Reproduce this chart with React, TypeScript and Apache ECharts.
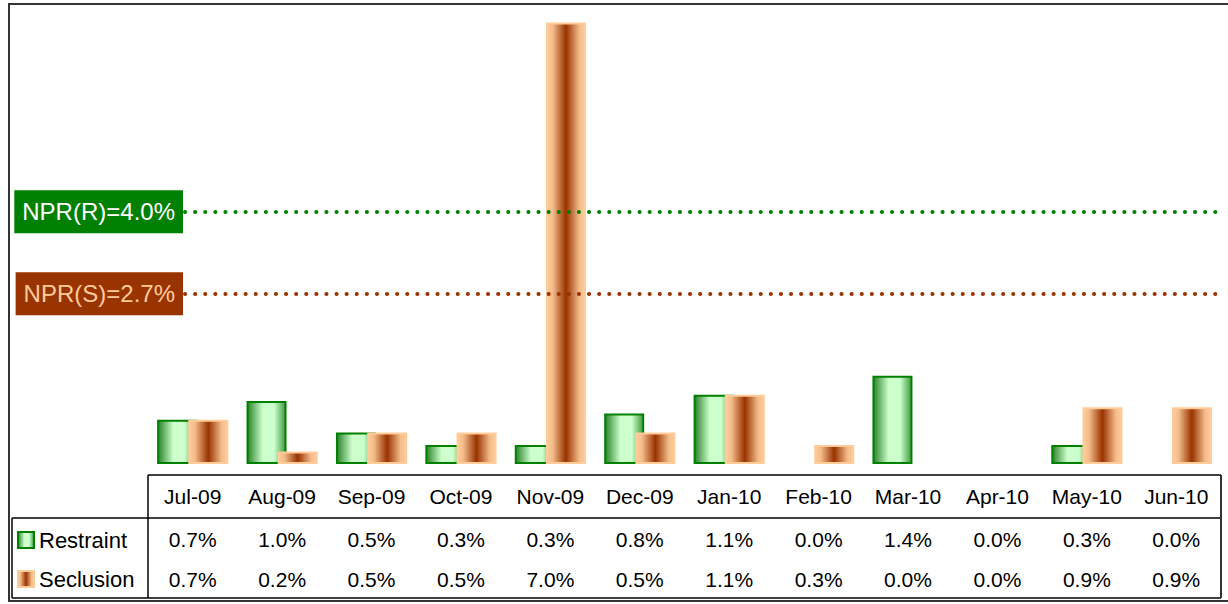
import React, { useEffect, useRef } from "react";
import * as echarts from "echarts";

const categories = ["Jul-09", "Aug-09", "Sep-09", "Oct-09", "Nov-09", "Dec-09", "Jan-10", "Feb-10", "Mar-10", "Apr-10", "May-10", "Jun-10"];
const restraint = [0.7, 1.0, 0.5, 0.3, 0.3, 0.8, 1.1, 0.0, 1.4, 0.0, 0.3, 0.0];
const seclusion = [0.7, 0.2, 0.5, 0.5, 7.0, 0.5, 1.1, 0.3, 0.0, 0.0, 0.9, 0.9];
const seriesNames = ["Restraint", "Seclusion"];
const nprR = 4.0;
const nprS = 2.7;

const FONT = "'Liberation Sans', Arial, sans-serif";
const fmt = (v: number) => v.toFixed(1) + "%";

export default function App() {
  const ref = useRef<HTMLDivElement>(null);
  useEffect(() => {
    document.body.style.margin = "0";
    const chart = echarts.init(ref.current!, null, { renderer: "svg" });
    const greenGrad = new echarts.graphic.LinearGradient(0, 0, 1, 0, [
      { offset: 0, color: "#2a822a" },
      { offset: 0.4, color: "#ccffcc" },
      { offset: 0.7, color: "#ccffcc" },
      { offset: 1, color: "#3f993f" },
    ]);
    const brownGrad = new echarts.graphic.LinearGradient(0, 0, 1, 0, [
      { offset: 0, color: "#ffcc99" },
      { offset: 0.15, color: "#f3bc8a" },
      { offset: 0.5, color: "#993300" },
      { offset: 0.85, color: "#f3bc8a" },
      { offset: 1, color: "#ffcc99" },
    ]);
    const valueAxis = (vals: number[], margin: number) => ({
      type: "category",
      data: categories,
      position: "bottom",
      axisLine: { show: false },
      axisTick: { show: false },
      axisLabel: {
        interval: 0,
        margin,
        verticalAlign: "middle",
        color: "#000",
        fontSize: 21,
        fontFamily: FONT,
        formatter: (_v: string, i: number) => fmt(vals[i]),
      },
    });
    const line = (x1: number, y1: number, x2: number, y2: number, color = "#000", w = 1.5) => ({
      type: "line",
      silent: true,
      z: 100,
      shape: { x1, y1, x2, y2 },
      style: { stroke: color, lineWidth: w },
    });
    chart.setOption({
      animation: false,
      grid: { left: 148, right: 7, top: 10, bottom: 140 },
      xAxis: [
        {
          type: "category",
          data: categories,
          position: "bottom",
          axisLine: { show: false },
          axisTick: { show: false },
          axisLabel: {
            interval: 0,
            margin: 32,
            verticalAlign: "middle",
            color: "#000",
            fontSize: 21,
            fontFamily: FONT,
          },
        },
        valueAxis(restraint, 75),
        valueAxis(seclusion, 115),
      ],
      yAxis: { type: "value", min: 0, max: 7.2, show: false, splitLine: { show: false } },
      legend: {
        orient: "vertical",
        left: 17,
        top: 529,
        padding: 0,
        itemWidth: 16,
        itemHeight: 16,
        itemGap: 17,
        icon: "rect",
        textStyle: { fontSize: 22, color: "#000", fontFamily: FONT },
        data: seriesNames,
      },
      series: [
        {
          name: seriesNames[0],
          type: "bar",
          data: restraint.map((v) => (v === 0 ? null : v)),
          barWidth: 40,
          barGap: "-22%",
          itemStyle: { color: greenGrad, borderColor: "#008000", borderWidth: 2 },
        },
        {
          name: seriesNames[1],
          type: "bar",
          data: seclusion.map((v) => (v === 0 ? null : v)),
          barWidth: 40,
          barGap: "-22%",
          itemStyle: { color: brownGrad, borderColor: "#ffcc99", borderWidth: 2 },
          markLine: {
            silent: true,
            symbol: "none",
            z: 10,
            data: [
              {
                yAxis: nprR,
                x: 185,
                lineStyle: { color: "#008000", width: 4, type: [0.1, 10], cap: "round" },
                label: {
                  show: true,
                  position: "start",
                  distance: 2,
                  formatter: "NPR(R)=" + fmt(nprR),
                  color: "#ffffff",
                  backgroundColor: "#008000",
                  fontSize: 24,
                  lineHeight: 27,
                  padding: [8, 8],
                  fontFamily: FONT,
                },
              },
              {
                yAxis: nprS,
                x: 185,
                lineStyle: { color: "#993300", width: 4, type: [0.1, 10], cap: "round" },
                label: {
                  show: true,
                  position: "start",
                  distance: 2,
                  formatter: "NPR(S)=" + fmt(nprS),
                  color: "#ffcc99",
                  backgroundColor: "#993300",
                  fontSize: 24,
                  lineHeight: 27,
                  padding: [8, 8],
                  fontFamily: FONT,
                },
              },
            ],
          },
        },
      ],
      graphic: [
        // outer frame
        line(8, 4, 1228, 4, "#333", 2),
        line(9, 4, 9, 602, "#333", 2),
        line(8, 601, 1228, 601, "#333", 2),
        // table
        line(148, 475, 1221, 475),
        line(12, 518, 1221, 518),
        line(12, 598, 1221, 598),
        line(148, 475, 148, 598),
        line(12, 518, 12, 598),
        line(1221, 475, 1221, 598, "#333", 2),
      ],
    });
    return () => chart.dispose();
  }, []);
  return <div ref={ref} style={{ width: 1228, height: 604 }} />;
}
